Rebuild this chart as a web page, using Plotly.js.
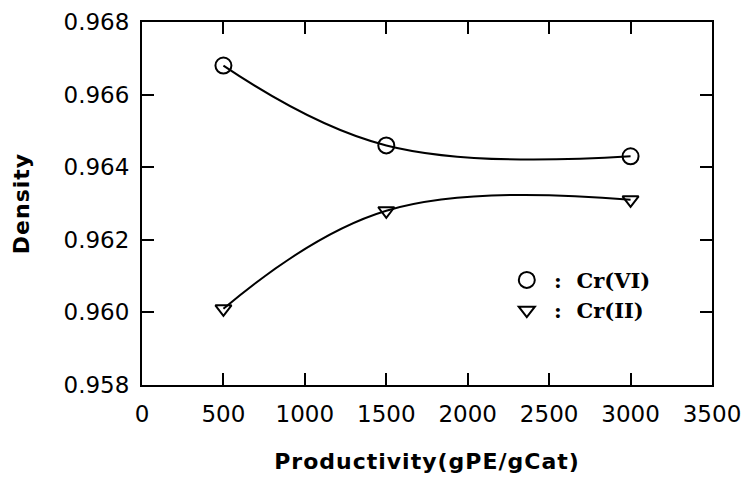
<!DOCTYPE html>
<html>
<head>
<meta charset="utf-8">
<script src="https://cdn.plot.ly/plotly-3.0.1.min.js"></script>
<style>
html,body{margin:0;padding:0;background:#fff;}
#chart{width:743px;height:477px;}
#chart .xtitle, #chart .ytitle{letter-spacing:1px;}
</style>
</head>
<body>
<div id="chart"></div>
<script>
// Data
const productivity = [500, 1500, 3000];
const densityCrVI = [0.9668, 0.9646, 0.9643];
const densityCrII = [0.9601, 0.9628, 0.9631];
const seriesNames = ['\u00a0:\u00a0\u00a0Cr(VI)', '\u00a0:\u00a0\u00a0Cr(II)'];
const xTicks = [0, 500, 1000, 1500, 2000, 2500, 3000, 3500];
const yTicks = [0.958, 0.960, 0.962, 0.964, 0.966, 0.968];

const lineStyle = {color: '#000', width: 2, shape: 'spline', smoothing: 1.15};

const traces = [
  {x: productivity, y: densityCrVI, mode: 'lines', line: lineStyle, showlegend: false, hoverinfo: 'skip'},
  {x: productivity, y: densityCrII, mode: 'lines', line: lineStyle, showlegend: false, hoverinfo: 'skip'},
  {x: productivity, y: densityCrVI, mode: 'markers', name: seriesNames[0],
   marker: {symbol: 'circle-open', size: 16, color: '#000', line: {width: 2, color: '#000'}}},
  {x: productivity, y: densityCrII, mode: 'markers', name: seriesNames[1],
   marker: {symbol: 'triangle-down-open', size: 14, color: '#000', line: {width: 2, color: '#000'}}}
];

const tickFont = {family: 'DejaVu Sans', size: 23, color: '#000'};
const titleFont = {family: 'DejaVu Sans', size: 22, color: '#000', weight: 'bold'};

const layout = {
  width: 743, height: 477,
  margin: {l: 142, r: 31, t: 22, b: 92, pad: 0},
  paper_bgcolor: '#fff', plot_bgcolor: '#fff',
  xaxis: {
    range: [0, 3500], tickvals: xTicks, ticktext: xTicks.map(String),
    ticks: 'inside', ticklen: 12, tickwidth: 2, tickcolor: '#000',
    showline: true, linecolor: '#000', linewidth: 2, mirror: 'ticks',
    showgrid: false, zeroline: false, tickfont: tickFont, ticklabelstandoff: 7,
    title: {text: 'Productivity(gPE/gCat)', font: titleFont, standoff: 28}
  },
  yaxis: {
    range: [0.958, 0.968], tickvals: yTicks, ticktext: yTicks.map(v => v.toFixed(3)),
    ticks: 'inside', ticklen: 12, tickwidth: 2, tickcolor: '#000',
    showline: true, linecolor: '#000', linewidth: 2, mirror: 'ticks',
    showgrid: false, zeroline: false, tickfont: tickFont, ticklabelstandoff: 6,
    title: {text: 'Density', font: titleFont, standoff: 28}
  },
  legend: {
    x: 0.640, y: 0.345, xanchor: 'left', yanchor: 'top',
    bgcolor: 'rgba(0,0,0,0)', borderwidth: 0,
    font: {family: 'DejaVu Serif', size: 21, color: '#000', weight: 'bold'},
    itemwidth: 30
  },
  showlegend: true
};

Plotly.newPlot('chart', traces, layout, {displayModeBar: false, staticPlot: true});
</script>
</body>
</html>
